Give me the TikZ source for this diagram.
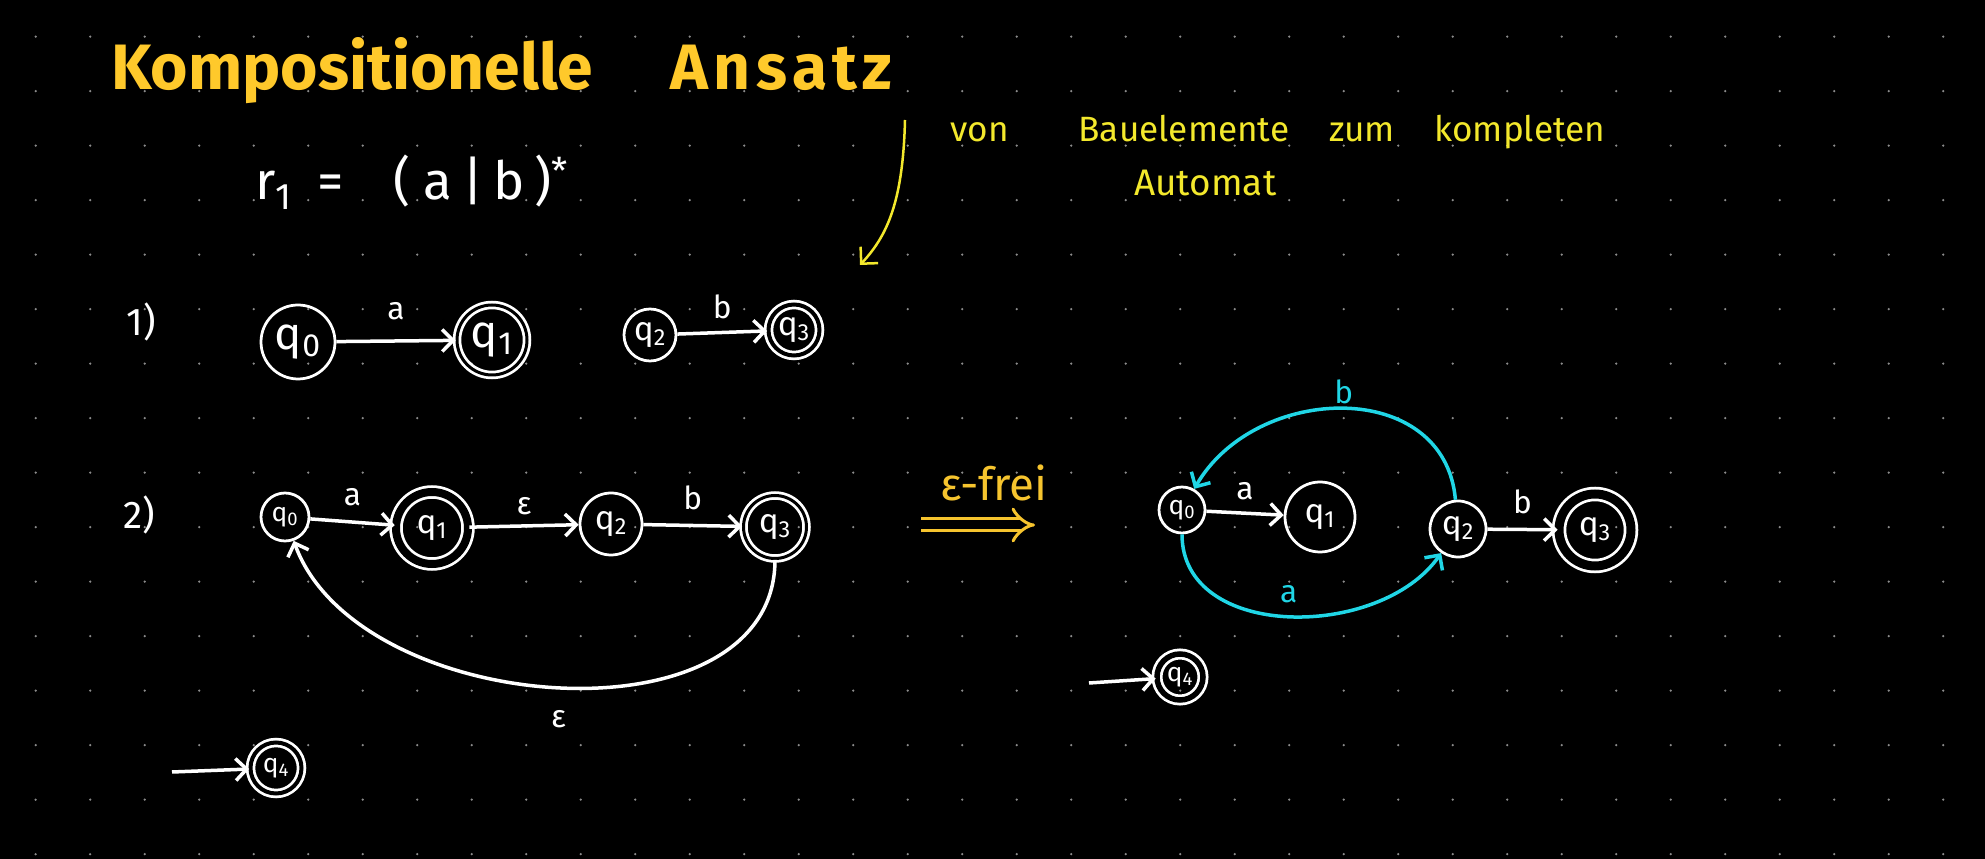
\documentclass[tikz,border=0pt]{standalone}
\usepackage{fontspec}
\setmainfont{Fira Sans}
\usetikzlibrary{positioning, calc, arrows.meta}

\definecolor{titelgelb}{RGB}{255,201,43}
\definecolor{notizgelb}{RGB}{243,232,44}
\definecolor{freigelb}{RGB}{246,196,46}
\definecolor{tuerkis}{RGB}{32,214,230}
\definecolor{rasterpunkt}{RGB}{140,140,140}

\newcommand{\qgross}{\fontsize{26}{28}\selectfont}
\newcommand{\qmittel}{\fontsize{19}{21}\selectfont}
\newcommand{\qklein}{\fontsize{15}{17}\selectfont}

\begin{document}
\begin{tikzpicture}[x=0.2mm, y=-0.2mm,
    zustand/.style={circle, draw=white, line width=0.55mm, inner sep=0pt, text=white, font=\qmittel},
    akzeptiert/.style={double=black, double distance=#1},
    akzeptiert/.default=0.8mm,
    pfeil/.style={white, line width=0.7mm, -{Straight Barb[length=2.2mm, width=4.4mm]}},
    kante/.style={text=white, inner sep=1pt, font=\fontsize{18}{20}\selectfont},
    nummer/.style={text=white, font=\fontsize{22}{24}\selectfont},
    schrift/.style={anchor=base west, inner sep=0pt}
  ]
  % Hintergrund
  \fill[black] (0,0) rectangle (1985,859);
  % Punktraster
  \foreach \i in {0,...,35}
    \foreach \j in {0,...,15}
      \fill[rasterpunkt] (35.7+54.5*\i, 36.7+54.5*\j) circle (0.25mm);

  % Ueberschrift
  \node[schrift, text=titelgelb, font=\fontsize{36.5}{40}\selectfont\bfseries] (titel) at (111,90) {Kompositionelle\hspace{15.5mm}A\kern3pt n\kern3pt s\kern3pt a\kern3pt t\kern3pt z};
  \node[schrift, text=white, font=\fontsize{30}{32}\selectfont] (ausdruck) at (255,200) {r\textsubscript{1}\hspace{5mm}=\hspace{10mm}(\hspace{2.5mm}a\hspace{2mm}|\hspace{2mm}b\hspace{2mm})\textsuperscript{*}};

  % Notiz mit Pfeil
  \node[schrift, text=notizgelb, font=\fontsize{20}{22}\selectfont] (notiz) at (950,142) {von\hspace{14mm}Bauelemente\hspace{8mm}zum\hspace{8mm}kompleten};
  \node[schrift, text=notizgelb, font=\fontsize{21}{23}\selectfont] (automat) at (1134,196) {Automat};
  \coordinate (notizstart) at (905,120);
  \coordinate (notizende) at (860,265);
  \draw[notizgelb, line width=0.5mm, -{Straight Barb[length=2.4mm, width=4.8mm]}] (notizstart) .. controls (903,200) and (888,235) .. (notizende);

  % 1) Bauelemente
  \node[nummer] (eins) at (141,322) {1)};
  \node[zustand, minimum size=14.8mm, font=\qgross] (aq0) at (298,342) {q\textsubscript{0}};
  \node[zustand, akzeptiert=0.6mm, minimum size=14mm, font=\qgross] (aq1) at (492,340) {q\textsubscript{1}};
  \node[zustand, minimum size=10.4mm] (aq2) at (650,335) {q\textsubscript{2}};
  \node[zustand, akzeptiert, minimum size=10.2mm] (aq3) at (794,330) {q\textsubscript{3}};
  \draw[pfeil] (aq0) -- node[kante, midway, above=3.5mm] {a} (aq1);
  \draw[pfeil] (aq2) -- node[kante, midway, above=2mm] {b} (aq3);

  % 2) zusammengesetzt
  \node[nummer] (zwei) at (139,515) {2)};
  \node[zustand, minimum size=9.6mm, font=\qklein] (bq0) at (285,517) {q\textsubscript{0}};
  \node[zustand, akzeptiert=1.6mm, minimum size=14.4mm] (bq1) at (432,528) {q\textsubscript{1}};
  \node[zustand, minimum size=12.4mm] (bq2) at (611,524) {q\textsubscript{2}};
  \node[zustand, akzeptiert=0.6mm, minimum size=12.6mm] (bq3) at (775,527) {q\textsubscript{3}};
  \node[zustand, akzeptiert, minimum size=10.2mm, font=\qklein] (bq4) at (276,768) {q\textsubscript{4}};
  \coordinate (bstart) at (172,772);
  \draw[pfeil] (bq0) -- node[kante, midway, above=2.5mm] {a} (bq1);
  \draw[pfeil] (bq1) -- node[kante, midway, above=1.5mm] {ε} (bq2);
  \draw[pfeil] (bq2) -- node[kante, midway, above=2.5mm] {b} (bq3);
  \draw[pfeil] (bq3) to[out=-90, in=-70, looseness=1] node[kante, midway, below=4mm] {ε} (bq0);
  \draw[pfeil] (bstart) -- (bq4);

  % epsilon-frei
  \node[text=freigelb, font=\fontsize{26}{28}\selectfont] (frei) at (994,483) {ε-frei};
  \coordinate (freistart) at (921,525);
  \coordinate (freiende) at (1035,525);
  \draw[freigelb, line width=0.6mm, double=black, double distance=1.8mm, -{Implies}] (freistart) -- (freiende);

  % Ergebnis
  \node[zustand, minimum size=9.2mm, font=\qklein] (cq0) at (1182,510) {q\textsubscript{0}};
  \node[zustand, minimum size=14mm] (cq1) at (1320,517) {q\textsubscript{1}};
  \node[zustand, minimum size=11.2mm] (cq2) at (1458,529) {q\textsubscript{2}};
  \node[zustand, akzeptiert=1.8mm, minimum size=14.4mm] (cq3) at (1595,530) {q\textsubscript{3}};
  \node[zustand, akzeptiert=1.1mm, minimum size=9.2mm, font=\qklein] (cq4) at (1180,677) {q\textsubscript{4}};
  \coordinate (cstart) at (1089,683);
  \draw[pfeil] (cq0) -- node[kante, midway, above=2mm] {a} (cq1);
  \draw[pfeil] (cq2) -- node[kante, midway, above=2.5mm] {b} (cq3);
  \draw[pfeil, tuerkis] (cq2) to[out=95, in=60, looseness=1.2] node[kante, text=tuerkis, midway, above=0.3mm] {b} (cq0);
  \draw[pfeil, tuerkis] (cq0) to[out=-90, in=-125, looseness=1.05] node[kante, text=tuerkis, midway, above=2mm] {a} (cq2);
  \draw[pfeil] (cstart) -- (cq4);
\end{tikzpicture}
\end{document}
